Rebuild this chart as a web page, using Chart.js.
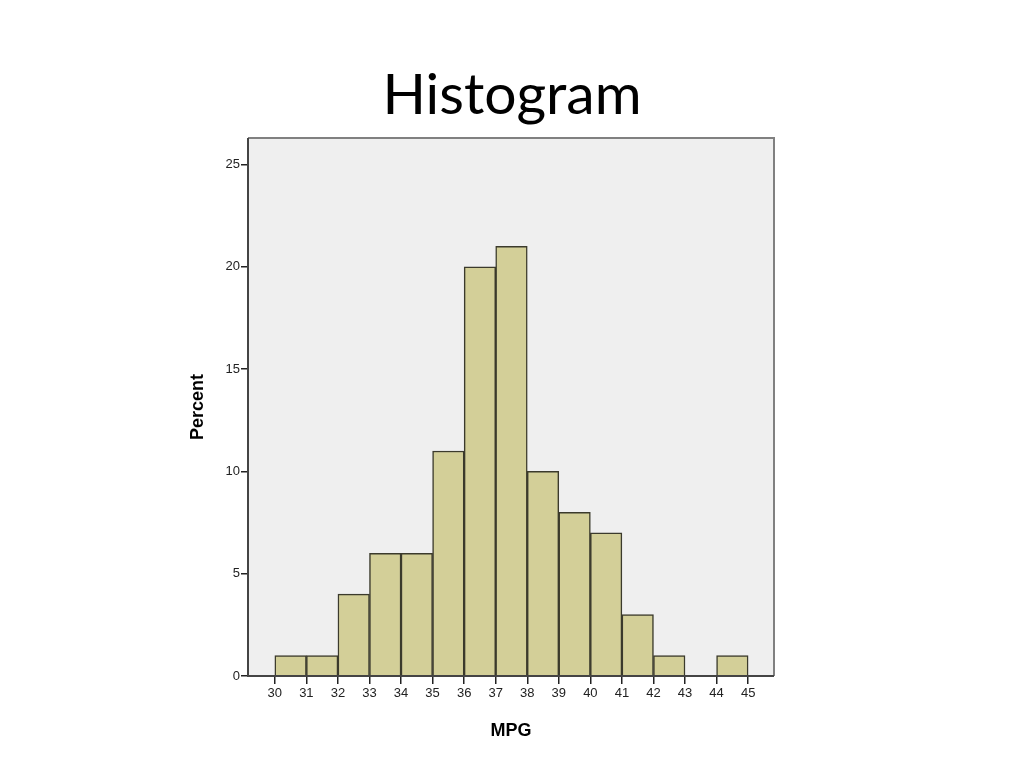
<!DOCTYPE html>
<html>
<head>
<meta charset="utf-8">
<script src="https://cdn.jsdelivr.net/npm/chart.js@4.4.0/dist/chart.umd.min.js"></script>
<style>
  html, body { margin: 0; padding: 0; background: #fff; }
  #wrap { position: relative; width: 1024px; height: 768px; }
  #title { position: absolute; left: 0; width: 1024px; top: 64px; text-align: center;
           font-family: Lato, "Open Sans", sans-serif; font-size: 57px; line-height: 57px; color: #000; }
  canvas { position: absolute; left: 0; top: 0; }
</style>
</head>
<body>
<div id="wrap">
  <div id="title">Histogram</div>
  <canvas id="c" width="1024" height="768"></canvas>
</div>
<script>
// Histogramm MPG – Klassen 30..45, Breite 1
const binStarts = [30, 31, 32, 33, 34, 35, 36, 37, 38, 39, 40, 41, 42, 43, 44];
const percent   = [1, 1, 4, 6, 6, 11, 20, 21, 10, 8, 7, 3, 1, 0, 1];
const xTicks = [30, 31, 32, 33, 34, 35, 36, 37, 38, 39, 40, 41, 42, 43, 44, 45];
const yTicks = [0, 5, 10, 15, 20, 25];

const tickFont = { family: "'Liberation Sans', Arial, sans-serif", size: 13 };
const titleFont = { family: "'Liberation Sans', Arial, sans-serif", size: 18, weight: "bold" };

// Hintergrund + Rahmen um die Plotfläche
const frame = {
  id: "frame",
  beforeDraw(chart) {
    const a = chart.chartArea, ctx = chart.ctx;
    ctx.save();
    ctx.fillStyle = "#efefef";
    ctx.fillRect(a.left, a.top, a.right - a.left, a.bottom - a.top);
    ctx.restore();
  },
  afterDraw(chart) {
    const a = chart.chartArea, ctx = chart.ctx;
    ctx.save();
    ctx.strokeStyle = "#808080";
    ctx.lineWidth = 2;
    ctx.beginPath();
    ctx.moveTo(a.left, a.top); ctx.lineTo(a.right, a.top); ctx.lineTo(a.right, a.bottom);
    ctx.stroke();
    ctx.strokeStyle = "#444";
    ctx.beginPath();
    ctx.moveTo(a.left, a.top); ctx.lineTo(a.left, a.bottom); ctx.lineTo(a.right, a.bottom);
    ctx.stroke();
    ctx.restore();
  }
};

new Chart(document.getElementById("c"), {
  type: "bar",
  data: {
    datasets: [{
      data: binStarts.map((b, i) => ({ x: b + 0.5, y: percent[i] })),
      backgroundColor: "#d3cf98",
      borderColor: "#3b3a2c",
      borderWidth: 1.5,
      barPercentage: 1,
      categoryPercentage: 1,
      borderSkipped: "bottom"
    }]
  },
  options: {
    responsive: false,
    animation: false,
    layout: { padding: { left: 178, top: 138, right: 250, bottom: 22 } },
    plugins: { legend: { display: false }, tooltip: { enabled: false } },
    scales: {
      x: {
        type: "linear", min: 29.15, max: 45.82, offset: false,
        afterBuildTicks: s => { s.ticks = xTicks.map(v => ({ value: v })); },
        afterFit: s => { s.height = 70; },
        grid: { offset: false, drawOnChartArea: false, drawTicks: true, tickLength: 8, color: "#222", lineWidth: 1.5 },
        border: { display: false },
        ticks: { color: "#222", font: tickFont, padding: 2, maxRotation: 0, autoSkip: false },
        title: { display: true, text: "MPG", color: "#000", font: titleFont, padding: { top: 11 } }
      },
      y: {
        min: 0, max: 26.3,
        afterBuildTicks: s => { s.ticks = yTicks.map(v => ({ value: v })); },
        afterFit: s => { s.width = 70; },
        grid: { drawOnChartArea: false, drawTicks: true, tickLength: 7, color: "#222", lineWidth: 1.5 },
        border: { display: false },
        ticks: { color: "#222", font: tickFont, padding: 1 },
        title: { display: true, text: "Percent", color: "#000", font: titleFont, padding: { top: 9 } }
      }
    }
  },
  plugins: [frame]
});
</script>
</body>
</html>
